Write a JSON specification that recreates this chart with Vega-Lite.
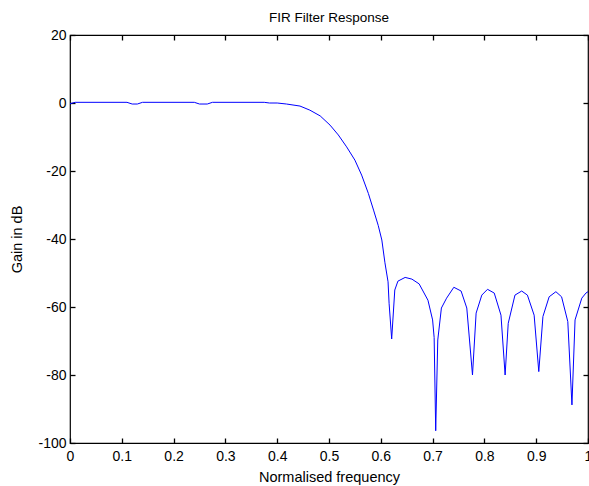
{
  "$schema": "https://vega.github.io/schema/vega-lite/v6.json",
  "width": 518,
  "height": 408,
  "autosize": {"type": "none"},
  "padding": {"left": 70, "top": 35, "right": 1, "bottom": 43},
  "background": "white",
  "title": {"text": "FIR Filter Response", "fontSize": 13.5, "fontWeight": "normal", "font": "Liberation Sans", "color": "black", "offset": 4, "anchor": "middle"},
  "config": {
    "view": {"stroke": "black", "strokeWidth": 1.2},
    "axis": {"labelFont": "Liberation Sans", "titleFont": "Liberation Sans", "labelFontSize": 14, "titleFontSize": 14.5, "titleFontWeight": "normal", "labelColor": "black", "titleColor": "black", "domain": false, "ticks": true, "tickColor": "#000000", "tickOpacity": 1, "tickWidth": 1.3, "grid": false, "tickSize": 5, "offset": -5, "zindex": 1}
  },
  "data": {"values": [
    {"f": 0.0, "g": -0.2}, {"f": 0.01, "g": 0.2}, {"f": 0.11, "g": 0.2}, {"f": 0.12, "g": -0.3}, {"f": 0.13, "g": -0.3}, {"f": 0.14, "g": 0.2},
    {"f": 0.24, "g": 0.2}, {"f": 0.25, "g": -0.3}, {"f": 0.265, "g": -0.3}, {"f": 0.275, "g": 0.2}, {"f": 0.375, "g": 0.2}, {"f": 0.385, "g": 0.0},
    {"f": 0.40, "g": 0.0}, {"f": 0.418, "g": -0.3}, {"f": 0.444, "g": -0.9}, {"f": 0.463, "g": -2.1}, {"f": 0.483, "g": -3.8}, {"f": 0.502, "g": -6.5},
    {"f": 0.518, "g": -9.4}, {"f": 0.534, "g": -12.9}, {"f": 0.55, "g": -16.8}, {"f": 0.563, "g": -21.2}, {"f": 0.576, "g": -26.6}, {"f": 0.586, "g": -31.5},
    {"f": 0.595, "g": -36.0}, {"f": 0.602, "g": -40.3}, {"f": 0.608, "g": -47.0}, {"f": 0.614, "g": -52.6}, {"f": 0.616, "g": -58.9}, {"f": 0.621, "g": -69.4},
    {"f": 0.627, "g": -55.0}, {"f": 0.633, "g": -52.4}, {"f": 0.647, "g": -51.3}, {"f": 0.66, "g": -51.8}, {"f": 0.674, "g": -53.2}, {"f": 0.691, "g": -58.0},
    {"f": 0.700, "g": -63.8}, {"f": 0.703, "g": -69.0}, {"f": 0.706, "g": -96.4}, {"f": 0.710, "g": -69.7}, {"f": 0.717, "g": -60.3}, {"f": 0.727, "g": -57.4},
    {"f": 0.741, "g": -54.2}, {"f": 0.755, "g": -55.3}, {"f": 0.766, "g": -60.3}, {"f": 0.777, "g": -80.0}, {"f": 0.784, "g": -61.8}, {"f": 0.795, "g": -56.5},
    {"f": 0.806, "g": -54.8}, {"f": 0.819, "g": -55.9}, {"f": 0.832, "g": -62.4}, {"f": 0.840, "g": -80.0}, {"f": 0.846, "g": -64.8}, {"f": 0.859, "g": -56.5},
    {"f": 0.872, "g": -55.3}, {"f": 0.883, "g": -56.5}, {"f": 0.896, "g": -62.4}, {"f": 0.905, "g": -79.0}, {"f": 0.913, "g": -62.8}, {"f": 0.925, "g": -57.0},
    {"f": 0.938, "g": -55.5}, {"f": 0.949, "g": -57.0}, {"f": 0.961, "g": -64.3}, {"f": 0.969, "g": -88.8}, {"f": 0.975, "g": -63.8}, {"f": 0.988, "g": -57.4},
    {"f": 0.996, "g": -55.9}, {"f": 1.0, "g": -55.5}
  ]},
  "layer": [
    {
      "mark": {"type": "line", "color": "#0000ff", "strokeWidth": 1, "clip": true},
      "encoding": {
        "x": {"field": "f", "type": "quantitative", "scale": {"domain": [0, 1], "nice": false, "zero": false}, "axis": {"title": "Normalised frequency", "values": [0, 0.1, 0.2, 0.3, 0.4, 0.5, 0.6, 0.7, 0.8, 0.9, 1], "format": "~g", "labelPadding": 6, "titlePadding": 7, "labelFlush": false, "labelOverlap": false}},
        "y": {"field": "g", "type": "quantitative", "scale": {"domain": [-100, 20], "nice": false, "zero": false}, "axis": {"title": "Gain in dB", "values": [-100, -80, -60, -40, -20, 0, 20], "labelExpr": "datum.value < 0 ? '-' + abs(datum.value) : '' + datum.value", "labelPadding": 4, "titlePadding": 13, "labelFlush": false, "labelOverlap": false}}
      }
    },
    {
      "mark": {"type": "line", "opacity": 0},
      "encoding": {
        "x": {"field": "f", "type": "quantitative", "axis": {"orient": "top", "title": null, "labels": false, "values": [0, 0.1, 0.2, 0.3, 0.4, 0.5, 0.6, 0.7, 0.8, 0.9, 1]}},
        "y": {"field": "g", "type": "quantitative", "axis": {"orient": "right", "title": null, "labels": false, "values": [-100, -80, -60, -40, -20, 0, 20]}}
      }
    }
  ],
  "resolve": {"axis": {"x": "independent", "y": "independent"}}
}
